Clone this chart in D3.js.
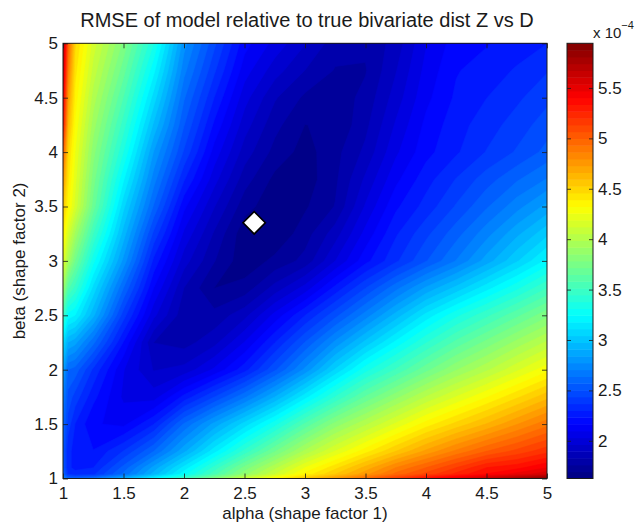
<!DOCTYPE html>
<html><head><meta charset="utf-8">
<script src="https://cdn.jsdelivr.net/npm/d3@7"></script>
<style>
body{margin:0;background:#fff}
svg{display:block}
text{font-family:"Liberation Sans",Arial,Helvetica,sans-serif;fill:#1a1a1a}
</style>
</head><body>
<svg id="chart" width="640" height="523"></svg>
<script>
// ---- data (RMSE values in units of 1e-4) ----
const alphaGrid = [1, 1.04, 1.1, 1.25, 1.5, 1.75, 2, 2.25, 2.5, 2.75, 3, 3.25, 3.5, 3.75, 4, 4.25, 4.5, 4.75, 5];
const betaGrid  = [1, 1.04, 1.1, 1.25, 1.5, 1.75, 2, 2.25, 2.5, 2.75, 3, 3.25, 3.5, 3.75, 4, 4.25, 4.5, 4.75, 5];
// one row per beta value (ascending), one column per alpha value
const rmse = [
  [2.75,2.6,2.6,2.65,2.9,3.2,3.5,3.8,4.1,4.35,4.55,4.75,4.95,5.15,5.35,5.5,5.65,5.78,5.9],
  [2.6,2.38,2.33,2.36,2.62,2.93,3.25,3.55,3.85,4.1,4.35,4.55,4.75,4.95,5.1,5.25,5.38,5.48,5.58],
  [2.55,2.32,2.28,2.3,2.55,2.85,3.15,3.45,3.75,4.0,4.25,4.45,4.65,4.85,5.0,5.15,5.3,5.35,5.45],
  [2.55,2.32,2.28,2.23,2.38,2.6,2.88,3.17,3.45,3.72,3.97,4.18,4.37,4.55,4.72,4.87,5.0,5.1,5.2],
  [2.6,2.42,2.3,2.16,2.13,2.3,2.61,2.85,3.08,3.32,3.59,3.83,4.01,4.19,4.36,4.5,4.63,4.77,4.9],
  [2.7,2.5,2.42,2.25,2.06,2.04,2.25,2.45,2.66,2.9,3.17,3.43,3.66,3.85,4.03,4.18,4.32,4.46,4.6],
  [2.85,2.6,2.57,2.36,2.08,1.92,1.95,2.09,2.27,2.51,2.77,3.06,3.32,3.51,3.7,3.87,4.01,4.16,4.3],
  [3.1,2.9,2.85,2.62,2.22,1.85,1.82,1.9,2.08,2.3,2.53,2.77,3.0,3.22,3.42,3.6,3.75,3.9,4.04],
  [3.5,3.25,3.2,2.92,2.41,2.02,1.8,1.8,1.9,2.1,2.3,2.5,2.71,2.93,3.15,3.33,3.48,3.63,3.78],
  [3.9,3.6,3.47,3.1,2.6,2.15,1.85,1.7,1.73,1.88,2.03,2.25,2.45,2.65,2.84,3.0,3.17,3.33,3.5],
  [4.2,3.95,3.72,3.3,2.8,2.28,1.96,1.78,1.65,1.72,1.8,2.0,2.2,2.36,2.52,2.68,2.86,3.04,3.22],
  [4.38,4.15,3.93,3.5,2.94,2.43,2.06,1.84,1.65,1.64,1.74,1.89,2.1,2.29,2.43,2.57,2.72,2.88,3.03],
  [4.55,4.35,4.15,3.69,3.07,2.59,2.17,1.93,1.73,1.65,1.69,1.78,2.01,2.21,2.33,2.46,2.59,2.72,2.85],
  [4.75,4.43,4.2,3.76,3.21,2.71,2.31,2.03,1.81,1.68,1.66,1.76,1.94,2.13,2.27,2.38,2.49,2.59,2.68],
  [5.0,4.5,4.25,3.83,3.35,2.82,2.44,2.12,1.89,1.75,1.67,1.75,1.87,2.06,2.2,2.29,2.38,2.46,2.55],
  [5.3,4.63,4.31,3.91,3.46,2.96,2.53,2.21,1.96,1.8,1.7,1.71,1.83,2.01,2.17,2.27,2.34,2.41,2.49],
  [5.45,4.75,4.37,3.99,3.57,3.09,2.61,2.3,2.03,1.86,1.76,1.73,1.8,1.96,2.13,2.24,2.3,2.36,2.43],
  [5.6,4.88,4.43,4.07,3.68,3.22,2.7,2.39,2.11,1.96,1.85,1.77,1.77,1.92,2.1,2.22,2.26,2.31,2.37],
  [5.7,5.0,4.49,4.14,3.78,3.35,2.78,2.47,2.18,2.05,1.93,1.81,1.79,1.88,2.07,2.19,2.22,2.26,2.3]
];
const xTicks = [1, 1.5, 2, 2.5, 3, 3.5, 4, 4.5, 5];
const yTicks = [1, 1.5, 2, 2.5, 3, 3.5, 4, 4.5, 5];
const cbTicks = [2, 2.5, 3, 3.5, 4, 4.5, 5, 5.5];
const colorRange = [1.626, 5.943];
const bestPoint = {alpha: 2.58, beta: 3.35};
const titleText = "RMSE of model relative to true bivariate dist Z vs D";
const xLabel = "alpha (shape factor 1)";
const yLabel = "beta (shape factor 2)";

// ---- layout ----
const plot = {left: 63, right: 547, top: 43.3, bottom: 478.5};
const cb = {left: 567, right: 593};

const svg = d3.select("#chart");
const x = d3.scaleLinear().domain([1, 5]).range([plot.left, plot.right]);
const y = d3.scaleLinear().domain([1, 5]).range([plot.bottom, plot.top]);

function clamp01(v){ return Math.max(0, Math.min(1, v)); }
function jet(t){
  t = clamp01(t);
  const r = clamp01(1.5 - Math.abs(4*t - 3));
  const g = clamp01(1.5 - Math.abs(4*t - 2));
  const b = clamp01(1.5 - Math.abs(4*t - 1));
  return d3.rgb(r*255, g*255, b*255).toString();
}
const cnorm = d3.scaleLinear().domain(colorRange).range([0, 1]);

// grid index -> data value (piecewise linear through the grid values)
const nA = alphaGrid.length, nB = betaGrid.length;
const idxToAlpha = d3.scaleLinear().domain(d3.range(nA)).range(alphaGrid).clamp(true);
const idxToBeta  = d3.scaleLinear().domain(d3.range(nB)).range(betaGrid).clamp(true);

const values = rmse.flat();
const step = 0.075;
const thresholds = d3.range(colorRange[0], colorRange[1], step);
const contours = d3.contours().size([nA, nB]).thresholds(thresholds)(values);

const proj = d3.geoTransform({
  point: function(cx, cy){
    this.stream.point(x(idxToAlpha(cx - 0.5)), y(idxToBeta(cy - 0.5)));
  }
});
const path = d3.geoPath(proj);

svg.append("clipPath").attr("id", "clip")
  .append("rect").attr("x", plot.left).attr("y", plot.top)
  .attr("width", plot.right - plot.left).attr("height", plot.bottom - plot.top);

const field = svg.append("g").attr("clip-path", "url(#clip)");
field.append("rect").attr("x", plot.left).attr("y", plot.top)
  .attr("width", plot.right - plot.left).attr("height", plot.bottom - plot.top)
  .attr("fill", jet(0));
field.selectAll("path").data(contours).join("path")
  .attr("d", path)
  .attr("fill", d => jet(cnorm(d.value + step/2)))
  .attr("stroke", d => jet(cnorm(d.value + step/2)))
  .attr("stroke-width", 0.6);

// best-fit marker
const sq = d3.symbol().type(d3.symbolSquare).size(250);
svg.append("path").attr("d", sq())
  .attr("transform", `translate(${x(bestPoint.alpha)},${y(bestPoint.beta)}) rotate(45)`)
  .attr("fill", "#fff").attr("stroke", "#000").attr("stroke-width", 1.6);

// axes
const fs = 17;
const axColor = "#1a1a1a";
function styleAxis(g){
  g.select(".domain").remove();
  g.selectAll("line").attr("stroke", axColor).attr("stroke-width", 0.8);
  g.selectAll("text").style("font-size", fs + "px").style("font-family", '"Liberation Sans",Arial,sans-serif').attr("fill", "#1a1a1a");
}
svg.append("g").attr("transform", `translate(0,${plot.bottom})`)
  .call(d3.axisBottom(x).tickValues(xTicks).tickSize(-5).tickPadding(8).tickFormat(d => String(d)))
  .call(styleAxis);
svg.append("g").attr("transform", `translate(0,${plot.top})`)
  .call(d3.axisTop(x).tickValues(xTicks).tickSize(-5).tickFormat(""))
  .call(styleAxis);
svg.append("g").attr("transform", `translate(${plot.left},0)`)
  .call(d3.axisLeft(y).tickValues(yTicks).tickSize(-5).tickPadding(5).tickFormat(d => String(d)))
  .call(styleAxis);
svg.append("g").attr("transform", `translate(${plot.right},0)`)
  .call(d3.axisRight(y).tickValues(yTicks).tickSize(-5).tickFormat(""))
  .call(styleAxis);
svg.append("rect").attr("x", plot.left).attr("y", plot.top)
  .attr("width", plot.right - plot.left).attr("height", plot.bottom - plot.top)
  .attr("fill", "none").attr("stroke", axColor).attr("stroke-width", 1);

// title and labels
svg.append("text").attr("x", 307).attr("y", 27)
  .attr("text-anchor", "middle").style("font-size", "20px").text(titleText);
svg.append("text").attr("x", (plot.left + plot.right)/2).attr("y", 519)
  .attr("text-anchor", "middle").style("font-size", fs + "px").text(xLabel);
svg.append("text").attr("transform", `translate(25,${(plot.top + plot.bottom)/2}) rotate(-90)`)
  .attr("text-anchor", "middle").style("font-size", fs + "px").text(yLabel);

// colorbar
const cy = d3.scaleLinear().domain(colorRange).range([plot.bottom, plot.top]);
const nCol = 64;
const cbg = svg.append("g");
cbg.selectAll("rect").data(d3.range(nCol)).join("rect")
  .attr("x", cb.left).attr("width", cb.right - cb.left)
  .attr("y", i => cy(colorRange[0] + (i+1)*(colorRange[1]-colorRange[0])/nCol))
  .attr("height", i => cy(colorRange[0] + i*(colorRange[1]-colorRange[0])/nCol) - cy(colorRange[0] + (i+1)*(colorRange[1]-colorRange[0])/nCol) + 0.5)
  .attr("fill", i => jet((i + 0.5)/nCol));
svg.append("g").attr("transform", `translate(${cb.right},0)`)
  .call(d3.axisRight(cy).tickValues(cbTicks).tickSize(-4).tickPadding(5).tickFormat(d => String(d)))
  .call(styleAxis);
svg.append("g").attr("transform", `translate(${cb.left},0)`)
  .call(d3.axisLeft(cy).tickValues(cbTicks).tickSize(-4).tickFormat(""))
  .call(styleAxis);
svg.append("rect").attr("x", cb.left).attr("y", plot.top)
  .attr("width", cb.right - cb.left).attr("height", plot.bottom - plot.top)
  .attr("fill", "none").attr("stroke", axColor).attr("stroke-width", 1);
const ex = svg.append("text").attr("x", 593).attr("y", 38).style("font-size", "15px");
ex.append("tspan").text("x 10");
ex.append("tspan").attr("dy", -9).style("font-size", "11px").text("−4");
</script>
</body></html>
